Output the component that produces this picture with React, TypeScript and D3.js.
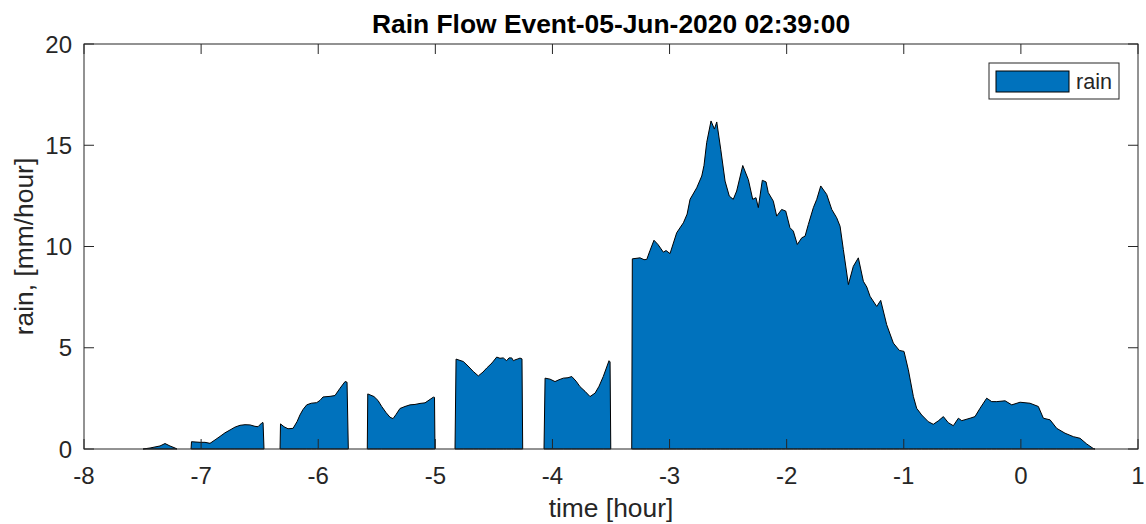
import React from "react";
import * as d3 from "d3";

// Rain intensity bursts, as [time in hours relative to the event, rain in mm/hour]
const burst1: [number, number][] = [
  [-7.496, 0], [-7.436, 0.05], [-7.394, 0.1], [-7.351, 0.15], [-7.308, 0.27],
  [-7.266, 0.15], [-7.223, 0.05], [-7.206, 0],
];
const burst2: [number, number][] = [
  [-7.086, 0], [-7.082, 0.36], [-7.009, 0.33], [-6.967, 0.33], [-6.924, 0.28],
  [-6.881, 0.45], [-6.839, 0.62], [-6.796, 0.8], [-6.753, 0.94], [-6.711, 1.08],
  [-6.668, 1.17], [-6.625, 1.2], [-6.583, 1.19], [-6.54, 1.12], [-6.514, 1.1],
  [-6.48, 1.3], [-6.471, 1.3], [-6.463, 0],
];
const burst3: [number, number][] = [
  [-6.326, 0], [-6.322, 1.24], [-6.292, 1.1], [-6.258, 1.0], [-6.215, 1.02],
  [-6.181, 1.35], [-6.156, 1.68], [-6.13, 1.95], [-6.098, 2.18], [-6.06, 2.26],
  [-6.013, 2.29], [-5.985, 2.4], [-5.959, 2.57], [-5.899, 2.6], [-5.857, 2.64],
  [-5.814, 3.0], [-5.771, 3.33], [-5.754, 3.3], [-5.743, 0],
];
const burst4: [number, number][] = [
  [-5.581, 0], [-5.577, 2.72], [-5.524, 2.59], [-5.49, 2.4], [-5.458, 2.1],
  [-5.421, 1.8], [-5.387, 1.57], [-5.361, 1.5], [-5.336, 1.7], [-5.302, 2.0],
  [-5.259, 2.1], [-5.216, 2.18], [-5.174, 2.2], [-5.131, 2.25], [-5.088, 2.28],
  [-5.017, 2.56], [-5.007, 2.55], [-5.003, 0],
];
const burst5: [number, number][] = [
  [-4.832, 0], [-4.823, 4.44], [-4.761, 4.32], [-4.721, 4.1], [-4.676, 3.83],
  [-4.633, 3.61], [-4.593, 3.8], [-4.561, 4.0], [-4.516, 4.25], [-4.476, 4.54],
  [-4.448, 4.48], [-4.42, 4.5], [-4.391, 4.36], [-4.371, 4.5], [-4.348, 4.5],
  [-4.333, 4.36], [-4.32, 4.4], [-4.294, 4.45], [-4.277, 4.49], [-4.26, 4.45],
  [-4.254, 0],
];
const burst6: [number, number][] = [
  [-4.072, 0], [-4.063, 3.5], [-4.021, 3.45], [-3.978, 3.33], [-3.944, 3.42],
  [-3.907, 3.5], [-3.867, 3.52], [-3.835, 3.58], [-3.798, 3.35], [-3.765, 3.08],
  [-3.722, 2.85], [-3.679, 2.59], [-3.636, 2.76], [-3.602, 3.1], [-3.566, 3.58],
  [-3.517, 4.36], [-3.508, 4.3], [-3.502, 0],
];
const burst7: [number, number][] = [
  [-3.323, 0], [-3.318, 9.39], [-3.252, 9.44], [-3.218, 9.35], [-3.195, 9.36],
  [-3.167, 9.8], [-3.133, 10.31], [-3.099, 10.1], [-3.053, 9.72], [-3.03, 9.8],
  [-2.996, 9.65], [-2.939, 10.68], [-2.882, 11.17], [-2.85, 11.6], [-2.825, 12.33],
  [-2.768, 12.9], [-2.725, 13.48], [-2.706, 14.0], [-2.683, 15.13], [-2.646, 16.2],
  [-2.617, 15.8], [-2.597, 16.15], [-2.563, 14.8], [-2.526, 13.23], [-2.49, 12.49],
  [-2.456, 12.33], [-2.427, 12.74], [-2.375, 14.0], [-2.327, 13.3], [-2.29, 12.33],
  [-2.262, 12.41], [-2.242, 11.92], [-2.208, 13.27], [-2.176, 13.19], [-2.157, 12.66],
  [-2.114, 12.24], [-2.085, 11.5], [-2.043, 11.83], [-2.008, 11.75], [-1.972, 10.93],
  [-1.943, 10.76], [-1.909, 10.1], [-1.871, 10.43], [-1.843, 10.51], [-1.815, 11.09],
  [-1.772, 11.92], [-1.743, 12.33], [-1.709, 12.99], [-1.658, 12.57], [-1.615, 11.83],
  [-1.573, 11.42], [-1.544, 11.0], [-1.516, 9.85], [-1.473, 8.12], [-1.431, 9.02],
  [-1.388, 9.44], [-1.345, 8.28], [-1.316, 8.0], [-1.288, 7.54], [-1.231, 7.04],
  [-1.197, 7.34], [-1.146, 6.14], [-1.089, 5.23], [-1.038, 4.87], [-0.998, 4.82],
  [-0.961, 3.91], [-0.918, 2.59], [-0.89, 2.01], [-0.847, 1.68], [-0.791, 1.35],
  [-0.748, 1.22], [-0.705, 1.39], [-0.662, 1.6], [-0.62, 1.3], [-0.577, 1.15],
  [-0.534, 1.52], [-0.505, 1.4], [-0.434, 1.52], [-0.392, 1.6], [-0.349, 2.01],
  [-0.292, 2.51], [-0.249, 2.34], [-0.206, 2.34], [-0.135, 2.38], [-0.078, 2.18],
  [-0.007, 2.31], [0.078, 2.26], [0.149, 2.1], [0.192, 1.52], [0.249, 1.44],
  [0.306, 1.02], [0.377, 0.78], [0.448, 0.61], [0.505, 0.53], [0.562, 0.25],
  [0.619, 0.02], [0.633, 0],
];
const bursts = [burst1, burst2, burst3, burst4, burst5, burst6, burst7];

const xTickValues = [-8, -7, -6, -5, -4, -3, -2, -1, 0, 1];
const yTickValues = [0, 5, 10, 15, 20];

const titleText = "Rain Flow Event-05-Jun-2020 02:39:00";
const xLabelText = "time [hour]";
const yLabelText = "rain, [mm/hour]";
const legendText = "rain";

const FONT = "'Liberation Sans', Arial, Helvetica, sans-serif";
const INK = "#262626";
const FILL = "#0072BD";

export default function App() {
  const left = 84;
  const right = 1138;
  const top = 44;
  const bottom = 449;
  const tickLen = 10;

  const x = d3.scaleLinear().domain([-8, 1]).range([left, right]);
  const y = d3.scaleLinear().domain([0, 20]).range([bottom, top]);

  const area = d3
    .area<[number, number]>()
    .x((d) => x(d[0]))
    .y0(y(0))
    .y1((d) => y(d[1]));

  const cx = (left + right) / 2;
  const cy = (top + bottom) / 2;

  return (
    <svg
      width={1146}
      height={524}
      style={{ position: "absolute", left: 0, top: 0, background: "#fff" }}
      fontFamily={FONT}
    >
      <rect x={0} y={0} width={1146} height={524} fill="#fff" />

      {/* filled rain bursts */}
      {bursts.map((b, i) => (
        <path
          key={i}
          d={area(b) ?? ""}
          fill={FILL}
          stroke="#000"
          strokeWidth={1}
          strokeLinejoin="round"
        />
      ))}

      {/* axes box */}
      <rect
        x={left}
        y={top}
        width={right - left}
        height={bottom - top}
        fill="none"
        stroke={INK}
        strokeWidth={1}
      />

      {/* x ticks on bottom and top, pointing inward */}
      {xTickValues.map((t) => (
        <g key={"x" + t}>
          <line x1={x(t)} x2={x(t)} y1={bottom} y2={bottom - tickLen} stroke={INK} strokeWidth={1} />
          <line x1={x(t)} x2={x(t)} y1={top} y2={top + tickLen} stroke={INK} strokeWidth={1} />
          <text
            x={x(t)}
            y={484}
            textAnchor="middle"
            fontSize={24}
            fill={INK}
          >
            {String(t)}
          </text>
        </g>
      ))}

      {/* y ticks on left and right, pointing inward */}
      {yTickValues.map((v) => (
        <g key={"y" + v}>
          <line x1={left} x2={left + tickLen} y1={y(v)} y2={y(v)} stroke={INK} strokeWidth={1} />
          <line x1={right} x2={right - tickLen} y1={y(v)} y2={y(v)} stroke={INK} strokeWidth={1} />
          <text
            x={72}
            y={y(v) + 8.5}
            textAnchor="end"
            fontSize={24}
            fill={INK}
          >
            {String(v)}
          </text>
        </g>
      ))}

      {/* title and axis labels */}
      <text x={cx} y={33} textAnchor="middle" fontSize={26.4} fontWeight="bold" fill="#000">
        {titleText}
      </text>
      <text x={cx} y={517} textAnchor="middle" fontSize={26.4} fill={INK}>
        {xLabelText}
      </text>
      <text
        transform={`translate(33, ${cy}) rotate(-90)`}
        textAnchor="middle"
        fontSize={26.4}
        fill={INK}
      >
        {yLabelText}
      </text>

      {/* legend */}
      <g>
        <rect x={989} y={63} width={130} height={36} fill="#fff" stroke={INK} strokeWidth={1} />
        <rect x={996} y={71} width={73} height={21} fill={FILL} stroke="#000" strokeWidth={1} />
        <text x={1076} y={89} fontSize={21.6} fill={INK}>
          {legendText}
        </text>
      </g>
    </svg>
  );
}
